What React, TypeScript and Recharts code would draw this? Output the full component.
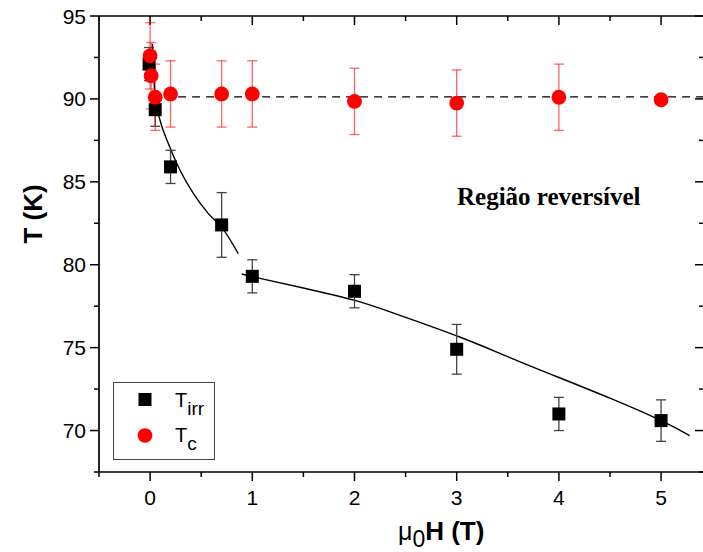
import React from 'react';
import { ComposedChart, Scatter, Line, XAxis, YAxis, ErrorBar, ReferenceLine } from 'recharts';

// T_irr (black squares)
const irrField = [-0.01, 0.05, 0.2, 0.7, 1, 2, 3, 4, 5];
const irrTemp = [92.1, 89.35, 85.9, 82.4, 79.3, 78.4, 74.9, 71.0, 70.6];
const irrError = [1, 1, 1, 1.95, 1, 1, 1.5, 1, 1.25];

// T_c (red circles)
const tcField = [0, 0.01, 0.05, 0.2, 0.7, 1, 2, 3, 4, 5];
const tcTemp = [92.6, 91.4, 90.1, 90.3, 90.3, 90.3, 89.85, 89.75, 90.1, 89.95];
const tcError = [2, 2, 2, 2, 2, 2, 2, 2, 2, 0];
const tcMean = 90.12;

// fitted curves
const fitLowField = [0.023, 0.049, 0.098, 0.179, 0.293, 0.423, 0.57, 0.7, 0.863];
const fitLowTemp = [93.33, 90.1, 88.7, 87.3, 85.7, 84.3, 83.08, 82.27, 80.67];
const fitHighField = [0.896, 1.075, 1.5, 2.004, 2.444, 3.03, 3.52, 4.0, 4.5, 5.0, 5.28];
const fitHighTemp = [79.44, 79.18, 78.6, 77.85, 76.95, 75.64, 74.4, 73.2, 71.95, 70.6, 69.7];

const xTicks = [-0.5, 0, 0.5, 1, 1.5, 2, 2.5, 3, 3.5, 4, 4.5, 5];
const yTicks = [67.5, 70, 72.5, 75, 77.5, 80, 82.5, 85, 87.5, 90, 92.5, 95];
const xDomain: [number, number] = [-0.5, 5.42];
const yDomain: [number, number] = [67.5, 95];

const irrData = irrField.map((x, i) => ({ x, y: irrTemp[i], e: irrError[i] }));
const tcData = tcField.map((x, i) => ({ x, y: tcTemp[i], e: tcError[i] }));
const fitLow = fitLowField.map((x, i) => ({ x, y: fitLowTemp[i] }));
const fitHigh = fitHighField.map((x, i) => ({ x, y: fitHighTemp[i] }));

const sans = '"Liberation Sans", Arial, sans-serif';
const serif = '"Liberation Serif", "Times New Roman", serif';

const isMajorX = (v: number) => Number.isInteger(v);
const isMajorY = (v: number) => v % 5 === 0;

function BottomTick({ x, y, payload }: any) {
  const major = isMajorX(payload.value);
  return (
    <g>
      <line x1={x} x2={x} y1={y} y2={y + (major ? 9 : 5)} stroke="#000" strokeWidth={1.5} />
      {major && (
        <text x={x} y={y + 33} textAnchor="middle" fontFamily={sans} fontSize={21} fill="#000">
          {payload.value}
        </text>
      )}
    </g>
  );
}

function LeftTick({ x, y, payload }: any) {
  const major = isMajorY(payload.value);
  return (
    <g>
      <line x1={x - (major ? 9 : 5)} x2={x} y1={y} y2={y} stroke="#000" strokeWidth={1.5} />
      {major && (
        <text x={x - 13} y={y + 7.5} textAnchor="end" fontFamily={sans} fontSize={21} fill="#000">
          {payload.value}
        </text>
      )}
    </g>
  );
}

// inward tick marks on the top frame (mirror of the x axis)
const topTick = (major: boolean) => (p: any) => {
  const top = Math.min(p.y1, p.y2);
  return <line x1={p.x1} x2={p.x1} y1={top} y2={top + (major ? 9 : 5)} stroke="#000" strokeWidth={1.5} />;
};

// inward tick marks on the right frame (mirror of the y axis)
const rightTick = (major: boolean) => (p: any) => {
  const right = Math.max(p.x1, p.x2);
  return <line x1={right - (major ? 9 : 5)} x2={right} y1={p.y1} y2={p.y1} stroke="#000" strokeWidth={1.5} />;
};

const squareShape = ({ cx, cy }: any) => <rect x={cx - 6.5} y={cy - 6.5} width={13} height={13} fill="#000" />;
const circleShape = ({ cx, cy }: any) => <circle cx={cx} cy={cy} r={7.4} fill="#ff0000" />;

const axisLine = { stroke: '#000', strokeWidth: 1.7 };

export default function App() {
  return (
    <div style={{ position: 'fixed', left: 0, top: 0, width: 703, height: 552, overflow: 'hidden', background: '#fff' }}>
      <ComposedChart width={720} height={552} margin={{ top: 16, right: 16, bottom: 0, left: 0 }}>
        <XAxis
          dataKey="x"
          type="number"
          domain={xDomain}
          allowDataOverflow
          ticks={xTicks}
          interval={0}
          tickSize={0}
          tickMargin={0}
          height={80}
          axisLine={axisLine}
          tickLine={false}
          tick={<BottomTick />}
        />
        <YAxis
          type="number"
          domain={yDomain}
          allowDataOverflow
          ticks={yTicks}
          interval={0}
          tickSize={0}
          tickMargin={0}
          width={99}
          axisLine={axisLine}
          tickLine={false}
          tick={<LeftTick />}
        />
        <ReferenceLine y={yDomain[1]} stroke="#000" strokeWidth={1.7} />
        {xTicks.map((v) => (
          <ReferenceLine key={`t${v}`} x={v} shape={topTick(isMajorX(v))} />
        ))}
        {yTicks.map((v) => (
          <ReferenceLine key={`r${v}`} y={v} shape={rightTick(isMajorY(v))} />
        ))}
        <ReferenceLine
          segment={[{ x: 0, y: tcMean }, { x: xDomain[1], y: tcMean }]}
          stroke="#000"
          strokeWidth={1.3}
          strokeDasharray="8 6"
        />
        <Line data={fitLow} dataKey="y" type="monotone" stroke="#000" strokeWidth={1.4} dot={false} isAnimationActive={false} />
        <Line data={fitHigh} dataKey="y" type="natural" stroke="#000" strokeWidth={1.4} dot={false} isAnimationActive={false} />
        <Scatter data={irrData} dataKey="y" shape={squareShape} isAnimationActive={false}>
          <ErrorBar dataKey="e" direction="y" width={5} stroke="#444" strokeWidth={1.3} />
        </Scatter>
        <Scatter data={tcData} dataKey="y" shape={circleShape} isAnimationActive={false}>
          <ErrorBar dataKey="e" direction="y" width={5} stroke="#ff0000" strokeOpacity={0.6} strokeWidth={1.3} />
        </Scatter>
      </ComposedChart>

      <svg width={703} height={552} style={{ position: 'absolute', left: 0, top: 0, pointerEvents: 'none' }}>
        <text x={457} y={205} fontFamily={serif} fontWeight="bold" fontSize={25} fill="#000">
          Região reversível
        </text>
        <text
          transform="translate(42,214) rotate(-90)"
          textAnchor="middle"
          fontFamily={sans}
          fontWeight="bold"
          fontSize={26}
          fill="#000"
        >
          T (K)
        </text>
        <text x={398} y={540} fontFamily={sans} fontSize={25} fill="#000">
          μ<tspan fontSize={23} dy={7}>0</tspan>
          <tspan dy={-7} fontWeight="bold" fontSize={26}>H (T)</tspan>
        </text>

        <rect x={113.5} y={382.5} width={101} height={77} fill="#fff" stroke="#444" strokeWidth={1} />
        <rect x={138.5} y={393} width={13} height={13} fill="#000" />
        <text x={175} y={406.5} fontFamily={sans} fontSize={20} fill="#000">
          T<tspan fontSize={19} dy={8}>irr</tspan>
        </text>
        <circle cx={145} cy={435.5} r={7.3} fill="#ff0000" />
        <text x={175} y={441.5} fontFamily={sans} fontSize={20} fill="#000">
          T<tspan fontSize={19} dy={8}>c</tspan>
        </text>
      </svg>
    </div>
  );
}
